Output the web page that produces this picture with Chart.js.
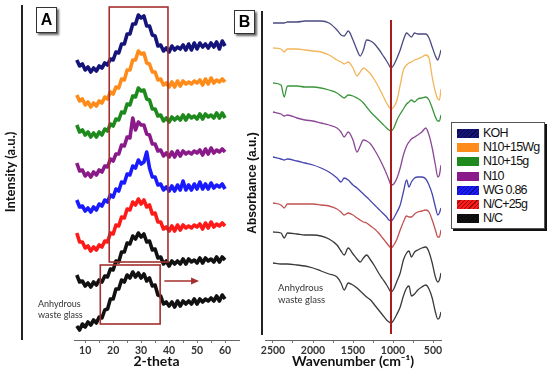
<!DOCTYPE html>
<html>
<head>
<meta charset="utf-8">
<script src="https://cdn.jsdelivr.net/npm/chart.js"></script>
<style>
  body { margin: 0; width: 550px; height: 374px; background: #fff; position: relative; overflow: hidden; font-family: Lato, sans-serif; }
  canvas { position: absolute; top: 0; }
  #xrd { left: 0; }
  #ftir { left: 255px; }
  .vline { position: absolute; width: 2px; background: #222; }
  .ylab { position: absolute; font-weight: bold; white-space: nowrap; text-align: center; transform: rotate(-90deg); color: #111; }
  .tag { position: absolute; border: 1.5px solid #333; background: #fff; box-shadow: 2px 2px 2px #666;
         font: bold 16px 'Liberation Sans', sans-serif; text-align: center; box-sizing: border-box; }
  .note { position: absolute; color: #333; font-family: Lato, sans-serif; }
  #legend { position: absolute; left: 451px; top: 122px; width: 94px; height: 107px; box-sizing: border-box;
            border: 1px solid #555; box-shadow: 2px 2px 0 #111; background: #fff; }
  .row { position: absolute; left: 5px; height: 14px; font: 12.5px 'Liberation Sans', sans-serif; letter-spacing: -0.8px; color: #111; }
  .sw { position: absolute; left: 0; top: 2px; width: 22px; height: 9px; }
  .row span { position: absolute; left: 26px; top: -1px; white-space: nowrap; }
</style>
</head>
<body>
<canvas id="xrd" width="250" height="374"></canvas>
<canvas id="ftir" width="195" height="374"></canvas>

<div class="vline" style="left:21px; top:5px; height:335px;"></div>
<div class="vline" style="left:261px; top:11px; height:324px;"></div>
<div class="ylab" style="left:-40px; top:164px; width:100px; font-size:13px;">Intensity (a.u.)</div>
<div class="ylab" style="left:192px; top:176px; width:120px; font-size:12px; font-family:'Liberation Sans', sans-serif;">Absorbance (a.u.)</div>
<div class="tag" style="left:36px; top:7px; width:21px; height:26px; line-height:23px;">A</div>
<div class="tag" style="left:234px; top:10px; width:21px; height:24px; line-height:21px;">B</div>
<div class="note" style="left:38px; top:298px; font-size:9px; line-height:11px;">Anhydrous<br>waste glass</div>
<div class="note" style="left:278px; top:282px; font-size:9.5px; line-height:12px;">Anhydrous<br>waste glass</div>
<div id="legend"></div>

<script>
// ---- panel A : XRD, 2-theta in degrees, intensity offset (a.u.)
const twoTheta = [7, 8, 9, 10, 11, 12, 13, 14, 15, 16, 17, 18, 19, 20, 21, 22, 23, 24, 25, 26,
  27, 28, 29, 30, 31, 32, 33, 34, 35, 36, 37, 38, 39, 40, 41, 42, 43, 44, 45, 46,
  47, 48, 49, 50, 51, 52, 53, 54, 55, 56, 57, 58, 59, 60]

const xrdKOH = [280, 274, 276, 270, 273, 268, 272, 269, 274, 272, 277, 275, 281, 280, 288, 287, 296, 296, 306, 306,
  316, 316, 325, 322, 324, 314, 314, 305, 304, 294, 295, 289, 292, 288, 294, 290, 293, 291, 295, 290,
  296, 290, 297, 291, 297, 293, 296, 292, 297, 293, 298, 291, 299, 294]
const xrdN10Wg = [245, 239, 241, 235, 238, 233, 237, 234, 239, 237, 243, 241, 248, 246, 253, 252, 261, 260, 270, 270,
  280, 280, 289, 286, 287, 277, 276, 268, 268, 260, 261, 255, 257, 253, 258, 253, 259, 254, 259, 256,
  258, 256, 259, 257, 260, 255, 261, 256, 262, 257, 260, 258, 261, 258]
const xrdN10g = [215, 208, 210, 205, 208, 203, 207, 203, 208, 205, 211, 209, 216, 214, 221, 220, 228, 227, 236, 235,
  244, 243, 252, 249, 250, 241, 240, 231, 231, 224, 225, 219, 222, 218, 223, 220, 223, 220, 225, 220,
  225, 222, 224, 221, 226, 221, 226, 223, 225, 222, 227, 222, 227, 222]
const xrdN10 = [177, 169, 170, 164, 167, 163, 168, 165, 170, 168, 174, 173, 181, 179, 186, 186, 195, 194, 203, 202,
  222, 210, 218, 215, 215, 206, 205, 196, 196, 189, 190, 184, 187, 183, 188, 183, 189, 184, 189, 186,
  188, 186, 189, 187, 190, 185, 191, 186, 192, 187, 190, 188, 191, 188]
const xrdWG = [140, 133, 134, 129, 132, 128, 133, 130, 136, 134, 140, 138, 145, 143, 151, 149, 158, 157, 166, 165,
  174, 172, 180, 176, 178, 188, 172, 163, 163, 155, 156, 150, 153, 149, 154, 149, 155, 150, 159, 150,
  155, 150, 156, 151, 158, 151, 156, 151, 157, 152, 155, 153, 156, 151]
const xrdNC25 = [107, 98, 98, 92, 94, 89, 93, 90, 95, 93, 99, 98, 107, 106, 115, 114, 123, 122, 131, 130,
  138, 135, 141, 136, 140, 133, 135, 126, 127, 118, 118, 111, 113, 109, 114, 109, 115, 110, 115, 112,
  114, 112, 115, 113, 116, 111, 117, 112, 118, 113, 116, 114, 117, 114]
const xrdNC = [65, 58, 59, 54, 57, 53, 58, 55, 60, 58, 64, 63, 71, 70, 79, 78, 88, 88, 97, 96,
  104, 101, 107, 103, 106, 98, 99, 90, 91, 82, 83, 76, 79, 74, 79, 76, 79, 76, 81, 76,
  81, 78, 80, 77, 82, 77, 82, 79, 81, 78, 83, 78, 83, 80]
const xrdGlass = [14, 10, 16, 13, 18, 15, 20, 17, 23, 22, 30, 31, 41, 41, 51, 51, 60, 58, 65, 62,
  68, 63, 67, 62, 66, 59, 62, 54, 55, 45, 44, 36, 38, 34, 38, 33, 39, 34, 39, 36,
  39, 36, 41, 36, 41, 38, 41, 39, 42, 39, 44, 39, 45, 41]

const thetaTicks = [10, 15, 20, 25, 30, 35, 40, 45, 50, 55, 60]
const thetaLabels = [10, 20, 30, 40, 50, 60]

// ---- panel B : FTIR, wavenumber in cm-1, absorbance offset (a.u.)
const wavenumber = [2500, 2400, 2360, 2320, 2200, 2100, 2000, 1900, 1800, 1700, 1650, 1610, 1560, 1500,
  1450, 1410, 1370, 1330, 1280, 1230, 1180, 1130, 1080, 1050, 1025, 990, 950, 910, 870, 830,
  800, 770, 730, 690, 640, 590, 550, 510, 470, 440, 420, 400]

const irKOH = [317, 317, 317, 318, 318, 319, 319, 319, 317, 310, 305, 304, 309, 300, 290, 284, 290, 300, 299, 296,
  291, 285, 279, 275, 272, 275, 282, 290, 300, 307, 305, 303, 307, 306, 306, 306, 302, 293, 284, 280, 284, 290]
const irN10Wg = [292, 291, 288, 291, 291, 290, 289, 288, 285, 280, 278, 276, 278, 272, 264, 268, 272, 270, 266, 260,
  253, 245, 237, 233, 231, 233, 240, 255, 270, 275, 277, 278, 280, 281, 283, 285, 282, 263, 248, 241, 240, 251]
const irN10g = [257, 255, 243, 254, 254, 253, 253, 252, 250, 247, 244, 242, 245, 244, 242, 240, 237, 233, 228, 224,
  220, 216, 212, 210, 209, 212, 220, 226, 231, 236, 238, 240, 238, 241, 242, 243, 240, 232, 223, 219, 219, 225]
const irN10 = [228, 226, 224, 225, 222, 220, 219, 217, 215, 212, 208, 203, 208, 200, 188, 194, 200, 199, 196, 190,
  183, 175, 166, 160, 155, 156, 162, 172, 185, 194, 198, 201, 203, 205, 208, 212, 205, 192, 175, 163, 165, 175]
const irWG = [183, 181, 180, 181, 179, 177, 175, 172, 168, 162, 158, 162, 160, 155, 152, 149, 146, 143, 139, 135,
  131, 127, 123, 120, 119, 122, 128, 135, 148, 160, 153, 158, 162, 163, 163, 161, 155, 146, 133, 125, 127, 132]
const irNC25 = [137, 135, 132, 136, 136, 136, 136, 135, 134, 131, 128, 125, 127, 125, 122, 120, 118, 117, 114, 111,
  107, 102, 97, 94, 92, 95, 101, 110, 118, 124, 123, 123, 126, 128, 129, 130, 128, 120, 110, 103, 103, 110]
const irNC = [108, 107, 102, 107, 106, 105, 105, 104, 101, 95, 89, 85, 92, 86, 81, 78, 82, 85, 80, 74,
  67, 61, 55, 51, 48, 51, 59, 67, 80, 87, 89, 83, 88, 90, 92, 93, 88, 77, 63, 58, 60, 67]
const irGlass = [77, 76, 76, 76, 75, 74, 72, 69, 66, 63, 57, 50, 57, 55, 52, 49, 46, 43, 40, 35,
  30, 25, 20, 18, 17, 20, 26, 33, 44, 52, 54, 44, 46, 50, 53, 55, 51, 42, 28, 21, 22, 28]

const waveTicks = [500, 750, 1000, 1250, 1500, 1750, 2000, 2250, 2500]
const waveLabels = [500, 1000, 1500, 2000, 2500]

const sampleNames = ['KOH', 'N10+15Wg', 'N10+15g', 'N10', 'WG 0.86', 'N/C+25g', 'N/C']
const xrdColors = ['#14147a', '#ff8c1a', '#1e8a1e', '#8a1a8a', '#1a1aff', '#ff1a1a', '#111111', '#111111']
const irColors = ['#4a4a82', '#f2b55a', '#3a963a', '#8a4896', '#4646b0', '#c25252', '#3a3a3a', '#3a3a3a']

const pts = (xs, ys) => xs.map((v, i) => ({x: v, y: ys[i]}))

const tickFont = {family: 'Lato', weight: 'bold', size: 10.5}

const xrdMarks = {
  id: 'xrdMarks',
  afterDatasetsDraw(chart) {
    const {ctx, scales: {x, y}} = chart
    ctx.save()
    ctx.strokeStyle = '#a3302e'
    ctx.lineWidth = 1.6
    const box = (x0, x1, y0, y1) => {
      const l = x.getPixelForValue(x0), r = x.getPixelForValue(x1)
      const t = y.getPixelForValue(y1), b = y.getPixelForValue(y0)
      ctx.strokeRect(l, t, r - l, b - t)
    }
    box(18.6, 39.6, 78, 333)
    box(15.4, 36.8, 16, 75)
    // arrow pointing right
    const ax0 = x.getPixelForValue(38.3), ax1 = x.getPixelForValue(50), ay = y.getPixelForValue(59)
    ctx.beginPath()
    ctx.moveTo(ax0, ay)
    ctx.lineTo(ax1, ay)
    ctx.stroke()
    ctx.fillStyle = '#a3302e'
    ctx.beginPath()
    ctx.moveTo(ax1 + 2, ay)
    ctx.lineTo(ax1 - 6, ay - 3.5)
    ctx.lineTo(ax1 - 6, ay + 3.5)
    ctx.closePath()
    ctx.fill()
    ctx.restore()
  }
}

const irMarks = {
  id: 'irMarks',
  afterDatasetsDraw(chart) {
    const {ctx, scales: {x, y}} = chart
    const px = x.getPixelForValue(1025)
    ctx.save()
    ctx.strokeStyle = '#a81c1c'
    ctx.lineWidth = 2
    ctx.beginPath()
    ctx.moveTo(px, y.getPixelForValue(320))
    ctx.lineTo(px, y.getPixelForValue(6))
    ctx.stroke()
    ctx.restore()
  }
}

const xAxis = (min, max, reverse, tickList, labelList, title) => ({
  type: 'linear',
  min: min,
  max: max,
  reverse: reverse,
  afterBuildTicks: (s) => { s.ticks = tickList.map(v => ({value: v})) },
  afterFit: (s) => { s.height = 34 },
  border: {color: '#666', width: 1},
  grid: {drawOnChartArea: false, tickLength: 3, color: '#777'},
  ticks: {
    padding: 1,
    color: '#333',
    font: tickFont,
    maxRotation: 0,
    autoSkip: false,
    callback: (v) => labelList.includes(v) ? String(v) : ''
  },
  title: {
    display: true,
    text: title,
    color: '#111',
    font: {family: 'Lato', weight: 'bold', size: 14},
    padding: {top: 0, bottom: 4}
  }
})

const xrdSets = [xrdKOH, xrdN10Wg, xrdN10g, xrdN10, xrdWG, xrdNC25, xrdNC, xrdGlass]
const xrdChart = new Chart(document.getElementById('xrd'), {
  type: 'line',
  data: {
    datasets: xrdSets.map((s, i) => ({
      label: sampleNames[i] || 'Anhydrous waste glass',
      data: pts(twoTheta, s),
      borderColor: xrdColors[i],
      borderWidth: 3.6,
      borderJoinStyle: 'round',
      pointRadius: 0,
      tension: 0
    }))
  },
  options: {
    responsive: false,
    animation: false,
    layout: {padding: {left: 74, right: 11, top: 5, bottom: 0}},
    plugins: {legend: {display: false}, tooltip: {enabled: false}},
    scales: {
      x: xAxis(6, 65, false, thetaTicks, thetaLabels, '2-theta'),
      y: {display: false, min: 0, max: 335}
    }
  },
  plugins: [xrdMarks]
})

const irSets = [irKOH, irN10Wg, irN10g, irN10, irWG, irNC25, irNC, irGlass]
const irChart = new Chart(document.getElementById('ftir'), {
  type: 'line',
  data: {
    datasets: irSets.map((s, i) => ({
      label: sampleNames[i] || 'Anhydrous waste glass',
      data: pts(wavenumber, s),
      borderColor: irColors[i],
      borderWidth: 1.3,
      pointRadius: 0,
      cubicInterpolationMode: 'monotone'
    }))
  },
  options: {
    responsive: false,
    animation: false,
    layout: {padding: {left: 10, right: 9, top: 5, bottom: 0}},
    plugins: {legend: {display: false}, tooltip: {enabled: false}},
    scales: {
      x: xAxis(400, 2600, true, waveTicks, waveLabels, 'Wavenumber (cm\u207B\u00B9)'),
      y: {display: false, min: 0, max: 335}
    }
  },
  plugins: [irMarks]
})

// legend box (panel B), hatched swatches for some samples
const hatched = [true, false, false, false, true, true, true]
const legend = document.getElementById('legend')
sampleNames.forEach((name, i) => {
  const row = document.createElement('div')
  row.className = 'row'
  row.style.top = (4 + i * 14.2) + 'px'
  const sw = document.createElement('div')
  sw.className = 'sw'
  const c = xrdColors[i]
  sw.style.background = hatched[i]
    ? 'repeating-linear-gradient(135deg, ' + c + ' 0 2px, rgba(0,0,0,0.45) 2px 3px), ' + c
    : c
  const t = document.createElement('span')
  t.textContent = name
  row.appendChild(sw)
  row.appendChild(t)
  legend.appendChild(row)
})
</script>
</body>
</html>
